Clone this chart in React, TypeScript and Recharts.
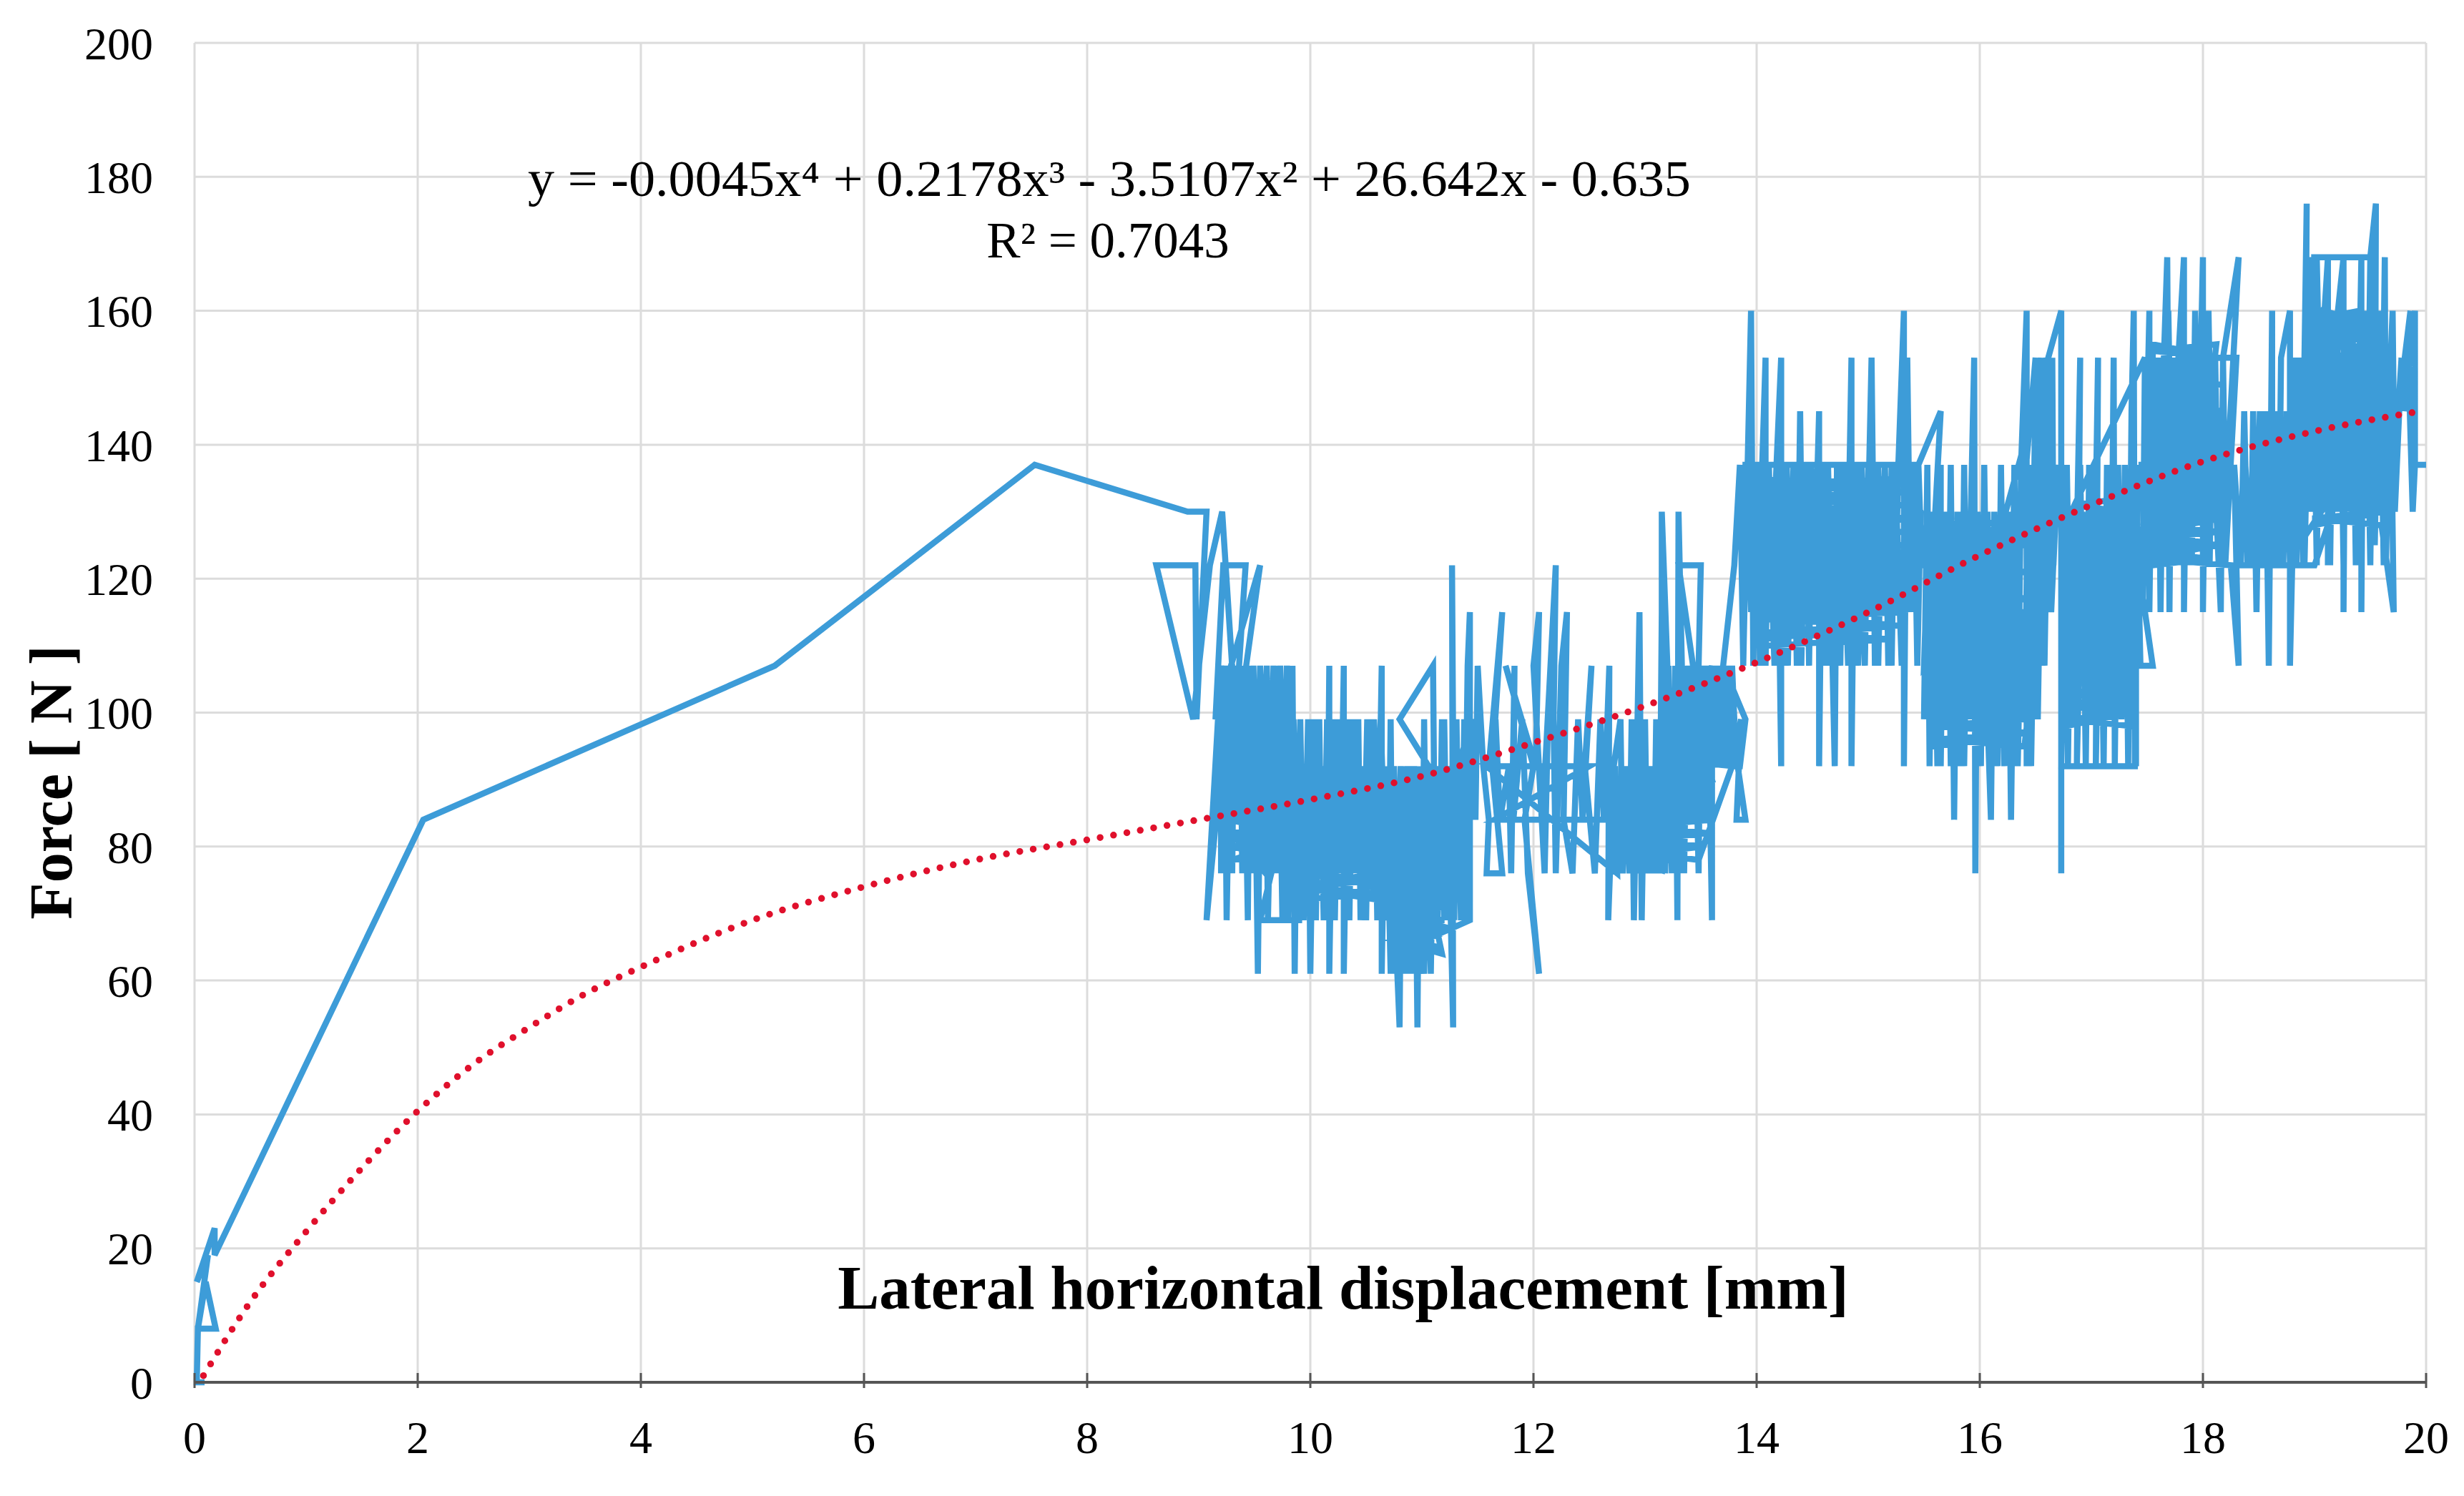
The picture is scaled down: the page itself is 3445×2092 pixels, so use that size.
import React from 'react';
import { ComposedChart, Line, XAxis, YAxis, CartesianGrid } from 'recharts';

type Pt = [number, number];

const xTicks = [0, 2, 4, 6, 8, 10, 12, 14, 16, 18, 20];
const yTicks = [0, 20, 40, 60, 80, 100, 120, 140, 160, 180, 200];

const trendX = [0.08, 0.5, 1, 1.5, 2, 2.5, 3, 3.5, 4, 5, 6, 7, 8, 9, 10, 11, 12, 13, 14, 15, 16, 17, 18, 19, 19.95];
const trendY = [1, 12, 22.5, 32, 40.5, 47.5, 53, 58, 62, 69, 74, 78, 81, 84, 87, 90.5, 95.5, 101, 107.5, 115, 123.5, 131, 137.5, 142, 145];

// start of the test, up to the first drop
const rampUp: Pt[] = [[0,0],[0.09,0],[0.02,0],[0.03,8],[0.19,8],[0.1,15],[0.03,8],[0.12,19],[0.02,15],[0.18,23],[0.18,19],[2.05,84],[5.2,107],[7.53,137],[8.9,130],[9.07,130],[8.98,99],[8.97,122],[8.62,122],[8.95,99],[9.1,122],[9.21,130],[9.33,99],[9.42,122],[9.22,122],[9.15,99],[9.55,122],[9.3,92],[9.2,107],[9.07,69],[9.2,92]];

const swarm9: Pt[] = [[9.2,76],[9.23,107],[9.25,69],[9.28,99],[9.3,76],[9.32,107],[9.35,84],[9.37,107],[9.39,76],[9.41,99],[9.44,69],[9.46,107],[9.48,76],[9.5,99],[9.53,61],[9.55,92],[9.57,76],[9.6,99],[9.62,69],[9.65,92],[9.68,107],[9.7,76],[9.72,99],[9.75,69],[9.78,92],[9.8,69],[9.84,107],[9.86,61],[9.88,92],[9.55,69],[9.9,69],[9.93,92],[9.95,76],[9.98,99],[10,61],[10.03,92],[10.05,69],[10.08,99],[10.1,76],[10.13,92],[10.15,69],[10.17,107],[10.17,61],[10.2,92],[10.22,69],[10.25,99],[10.27,76],[10.3,107],[10.3,61],[10.33,92],[10.35,69],[10.38,99],[10.4,76],[10.43,99],[10.45,69],[10.48,92],[10.5,69],[10.53,99],[10.55,76],[10.58,92],[10.6,69],[10.64,107],[10.64,61],[10.67,92]];

const swarm9Back: Pt[] = [[10.66,84],[10.63,99],[10.6,84],[10.57,99],[10.54,76],[10.51,99],[10.48,76],[10.45,92],[10.42,84],[10.39,92],[10.36,76],[10.33,99],[10.3,84],[10.27,92],[10.24,76],[10.21,99],[10.18,84],[10.15,99],[10.12,69],[10.09,92],[10.06,76],[10.03,99],[10,76],[9.97,92],[9.94,69],[9.91,99],[9.88,76],[9.85,99],[9.82,84],[9.79,107],[9.76,84],[9.73,107],[9.7,92],[9.67,107],[9.64,84],[9.61,107],[9.58,92],[9.55,107],[9.52,84],[9.49,107],[9.46,92],[9.43,107],[9.4,84],[9.37,99],[9.34,84],[9.31,107],[9.28,84],[9.25,107],[9.22,84],[9.2,99],[9.2,84],[9.6,76],[10,84],[10.4,84]];

// thick middle of each cluster, where the trace overlaps itself
const coreA: Pt[] = [[9.3,78],[9.75,79],[9.32,80],[9.78,81],[9.28,82],[9.74,83],[9.3,84],[9.76,85],[9.33,86],[9.75,87],[9.29,88],[9.72,89],[9.31,90],[9.7,91],[9.34,92],[9.74,93],[9.3,94],[9.68,95],[9.33,96],[9.66,97],[9.36,98],[9.62,99],[9.4,100]];
const coreA2: Pt[] = [[9.76,78],[9.3,80],[9.77,82],[9.28,84],[9.75,86],[9.3,88],[9.74,90],[9.32,92],[9.72,94],[9.34,96],[9.68,98]];
const coreB: Pt[] = [[9.85,72],[10.6,73],[9.9,74],[10.65,75],[9.86,76],[10.58,77],[9.88,78],[10.62,79],[9.85,80],[10.64,81],[9.92,82],[10.6,83],[9.88,84],[10.55,85],[9.9,86],[10.6,87],[9.95,88],[10.5,89],[10,90]];
const coreB2: Pt[] = [[10.62,72],[9.88,74],[10.6,76],[9.86,78],[10.64,80],[9.88,82],[10.6,84],[9.9,86],[10.56,88]];
const coreC: Pt[] = [[10.75,64],[11.15,65],[10.78,66],[11.18,67],[10.74,68],[11.2,69],[10.72,70],[11.22,71],[10.76,72],[11.18,73],[10.73,74],[11.2,75],[10.75,76],[11.22,77],[10.78,78],[11.18,79],[10.74,80],[11.2,81],[10.76,82],[11.16,83],[10.8,84],[11.2,85],[10.76,86],[11.15,87],[10.82,88],[11.12,89],[10.85,90]];
const coreC2: Pt[] = [[11.18,64],[10.76,66],[11.2,68],[10.74,70],[11.2,72],[10.74,74],[11.2,76],[10.76,78],[11.2,80],[10.76,82],[11.18,84],[10.78,86],[11.14,88]];
const coreE: Pt[] = [[13.8,92],[13.2,93],[13.75,94],[13.24,95],[13.78,96],[13.2,97],[13.74,98],[13.26,99],[13.76,100],[13.3,101],[13.72,102],[13.28,103],[13.7,104],[13.35,105]];
const coreD: Pt[] = [[13.6,90],[12.92,89],[13.55,88],[12.95,87],[13.58,86],[12.9,85],[13.6,84],[12.94,83],[13.56,82],[12.98,81],[13.52,80],[13,79],[13.48,78]];
const coreF: Pt[] = [[15.35,135],[13.98,134],[15.3,133],[14,132],[15.33,131],[13.96,130],[15.36,129],[14.02,128],[15.32,127],[13.98,126],[15.28,125],[14,124],[15.35,123],[13.95,122],[15.3,121],[14.03,120],[15.34,119],[13.98,118],[15.26,117],[14,116],[15.3,115],[14.05,114],[15.22,113],[14.02,112],[15.18,111],[14.08,110]];
const coreF2: Pt[] = [[14,135],[15.34,133],[13.98,131],[15.35,129],[13.97,127],[15.32,125],[13.98,123],[15.33,121],[14,119],[15.3,117],[14.02,115],[15.26,113],[14.05,111]];
const coreG: Pt[] = [[16.4,95],[15.62,96],[16.44,97],[15.58,98],[16.4,99],[15.62,100],[16.45,101],[15.56,102],[16.42,103],[15.6,104],[16.46,105],[15.55,106],[16.4,107],[15.6,108],[16.44,109],[15.58,110],[16.42,111],[15.62,112],[16.45,113],[15.56,114],[16.4,115],[15.6,116],[16.44,117],[15.58,118],[16.38,119],[15.6,120],[16.42,121],[15.62,122],[16.36,123],[15.58,124],[16.4,125],[15.62,126],[16.34,127],[15.6,128]];
const coreG2: Pt[] = [[15.6,95],[16.42,97],[15.58,99],[16.44,101],[15.58,103],[16.44,105],[15.57,107],[16.42,109],[15.58,111],[16.44,113],[15.58,115],[16.42,117],[15.6,119],[16.4,121],[15.6,123],[16.38,125],[15.62,127]];
const coreH: Pt[] = [[17.35,98],[16.78,99],[17.32,100],[16.76,101],[17.36,102],[16.8,103],[17.33,104],[16.76,105],[17.35,106],[16.78,107],[17.38,108],[16.76,109],[17.34,110],[16.8,111],[17.36,112],[16.77,113],[17.33,114],[16.76,115],[17.38,116],[16.8,117],[17.35,118],[16.78,119],[17.32,120],[16.76,121],[17.36,122],[16.8,123],[17.34,124],[16.78,125],[17.3,126],[16.82,127],[17.34,128],[16.8,129],[17.28,130],[16.84,131],[17.3,132]];
const coreH2: Pt[] = [[16.78,98],[17.34,100],[16.77,102],[17.35,104],[16.77,106],[17.36,108],[16.78,110],[17.35,112],[16.78,114],[17.36,116],[16.78,118],[17.34,120],[16.78,122],[17.35,124],[16.8,126],[17.32,128],[16.82,130]];
const coreI: Pt[] = [[18.12,155],[17.56,154],[18.15,153],[17.52,152],[18.1,151],[17.55,150],[18.16,149],[17.5,148],[18.12,147],[17.54,146],[18.18,145],[17.5,144],[18.14,143],[17.52,142],[18.18,141],[17.48,140],[18.15,139],[17.5,138],[18.2,137],[17.46,136],[18.16,135],[17.5,134],[18.2,133],[17.48,132],[18.15,131],[17.52,130],[18.18,129],[17.5,128],[18.14,127],[17.54,126],[18.1,125],[17.5,124],[18.05,123],[17.55,122]];
const coreI2: Pt[] = [[17.55,155],[18.14,153],[17.53,151],[18.14,149],[17.52,147],[18.16,145],[17.51,143],[18.16,141],[17.5,139],[18.18,137],[17.48,135],[18.18,133],[17.5,131],[18.16,129],[17.52,127],[18.12,125],[17.52,123]];
const coreK: Pt[] = [[19.6,128],[18.98,129],[19.62,130],[18.95,131],[19.58,132],[19,133],[19.63,134],[18.96,135],[19.6,136],[18.98,137],[19.64,138],[18.94,139],[19.6,140],[18.98,141],[19.62,142],[18.95,143],[19.58,144],[19,145],[19.63,146],[18.96,147],[19.6,148],[19,149],[19.58,150],[18.98,151],[19.56,152],[19.02,153],[19.6,154],[19,155],[19.52,156],[19.06,157],[19.48,158],[19.1,159],[19.4,160]];
const coreK2: Pt[] = [[19,128],[19.6,130],[18.97,132],[19.61,134],[18.97,136],[19.62,138],[18.96,140],[19.61,142],[18.97,144],[19.61,146],[18.98,148],[19.58,150],[19,152],[19.58,154],[19.02,156],[19.5,158],[19.08,160]];
const coreJ: Pt[] = [[18.9,143],[18.48,142],[18.92,141],[18.44,140],[18.9,139],[18.46,138],[18.94,137],[18.42,136],[18.9,135],[18.46,134],[18.92,133],[18.42,132],[18.88,131],[18.44,130],[18.92,129],[18.4,128],[18.9,127],[18.45,126],[18.86,125]];

const swarm10: Pt[] = [[10.7,69],[10.72,99],[10.74,61],[10.76,84],[10.78,61],[10.8,53],[10.82,92],[10.84,61],[10.86,84],[10.88,61],[10.9,92],[10.92,69],[10.94,84],[10.96,53],[10.98,92],[11,61],[11.02,99],[11.04,69],[11.06,92],[10.8,99],[11.1,107],[11.12,69],[11.14,92],[11.16,76],[11.18,99],[11.2,69],[11.22,92],[11.25,76],[11.28,53],[11.27,122],[11.29,69],[11.31,99],[11.33,76],[11.35,92],[11.38,69],[11.41,107],[11.43,115],[11.43,69]];

const swarm10Back: Pt[] = [[11.44,92],[11.41,76],[11.38,99],[11.35,69],[11.32,92],[11.29,76],[11.26,92],[11.23,69],[11.2,99],[11.17,84],[11.14,69],[11.11,92],[11.08,61],[11.05,84],[11.02,61],[10.99,76],[10.96,61],[10.93,92],[10.9,61],[10.87,92],[10.84,69],[10.81,92],[10.78,69],[10.75,92],[10.72,61],[10.69,84],[11,76],[11.46,99],[11.48,84],[11.5,107]];

const sparse11: Pt[] = [[11.55,92],[11.6,84],[11.58,76],[11.72,76],[11.63,92],[11.72,115],[11.6,92],[11.66,99],[11.7,84],[11.78,92],[11.8,76],[11.83,107],[11.82,84],[11.9,99],[11.95,76],[12.05,61],[11.92,84],[12,92],[11.75,107],[12.02,92],[12.05,115],[12,107],[12.1,76],[12.13,99],[12.08,84],[12.2,122],[12.18,99],[12.2,76],[12.25,107],[12.3,115],[12.27,84],[12.35,76],[12.4,99],[12.44,84],[12.52,107],[12.46,92],[12.55,76],[12.6,99],[12.63,84],[12.68,107],[12.67,69],[12.72,92],[12.75,76],[11.58,92],[12.5,92],[11.65,84],[12.65,84]];

const swarm13: Pt[] = [[12.78,99],[12.8,76],[12.83,92],[12.86,76],[12.88,99],[12.9,69],[12.95,115],[12.97,69],[13,99],[13.02,76],[13.05,92],[13.08,76],[13.1,99],[13.13,76],[13.15,115],[13.15,130],[13.2,107],[13.18,76],[13.22,99],[13.25,76],[13.27,107],[13.29,69],[13.3,130],[13.33,107],[13.35,76],[13.38,107],[13.4,84],[13.43,107],[13.3,122],[13.5,122],[13.46,92],[13.48,76],[13.5,107],[13.53,84],[13.56,107],[13.6,69],[13.6,107],[13.15,76],[13.63,99],[13.65,92],[13.68,107],[13.7,92],[13.72,107],[13.75,92],[13.78,107],[13.8,99],[13.77,92],[13.86,99],[13.82,84],[13.9,84],[13.7,107],[13.9,99],[13.85,92]];

const swarm13Back: Pt[] = [[13.78,92],[13.75,107],[13.72,92],[13.69,107],[13.66,92],[13.63,107],[13.6,92],[13.57,107],[13.54,84],[13.51,107],[13.48,84],[13.45,107],[13.42,84],[13.39,107],[13.36,84],[13.33,107],[13.3,76],[13.27,99],[13.24,76],[13.21,107],[13.18,76],[13.15,99],[13.12,76],[13.09,92],[13.06,76],[13.03,92],[13,76],[12.97,92],[12.94,76],[12.91,92],[12.88,76],[12.85,92],[12.82,84],[12.79,92],[12.76,76],[12.73,92],[12.7,76],[13.2,92],[13.6,92],[13.8,122]];

const swarm14: Pt[] = [[13.85,137],[13.88,107],[13.91,130],[13.95,160],[13.97,107],[14,137],[14.03,107],[14.05,137],[14.08,153],[14.08,107],[14.11,137],[14.14,115],[14.16,130],[14.22,153],[14.22,92],[14.19,130],[14.24,107],[14.27,137],[14.3,115],[14.33,137],[14.36,107],[14.39,145],[14.41,115],[14.44,137],[14.47,107],[14.49,130],[14.51,115],[14.56,145],[14.56,92],[14.59,137],[14.62,107],[14.64,137],[14.67,115],[14.7,92],[14.72,137],[14.75,107],[14.78,137],[14.81,115],[14.85,153],[14.85,92],[14.88,137],[14.91,107],[14.94,137],[14.97,115],[15,130],[15.03,153],[15.06,107],[15.09,137],[15.12,115],[15.15,137],[15.18,107],[15.21,137],[15.24,115],[15.27,137],[15.32,160],[15.32,92],[15.35,153],[15.38,115],[15.41,137],[15.44,107],[15.47,130]];

const swarm14Back: Pt[] = [[15.48,122],[15.45,137],[15.42,122],[15.39,137],[15.36,115],[15.33,130],[15.3,107],[15.27,122],[15.24,137],[15.21,107],[15.18,130],[15.15,115],[15.12,130],[15.09,107],[15.06,137],[15.03,115],[15,137],[14.97,107],[14.94,122],[14.91,137],[14.88,115],[14.85,130],[14.82,107],[14.79,122],[14.76,137],[14.73,115],[14.7,130],[14.67,107],[14.64,122],[14.61,130],[14.58,107],[14.55,137],[14.52,115],[14.49,137],[14.46,115],[14.43,130],[14.4,107],[14.37,137],[14.34,115],[14.31,130],[14.28,107],[14.25,137],[14.22,115],[14.19,137],[14.16,107],[14.13,122],[14.1,137],[14.07,115],[14.04,130],[14.01,115],[13.98,137],[13.95,115],[13.92,137],[13.89,122],[13.9,137],[15.45,137],[15.65,145],[15.5,99]];

const swarm15: Pt[] = [[15.53,137],[15.55,92],[15.58,130],[15.61,99],[15.65,137],[15.65,92],[15.68,130],[15.71,99],[15.74,137],[15.77,84],[15.8,130],[15.83,92],[15.86,137],[15.89,99],[15.92,130],[15.95,153],[15.96,76],[15.98,130],[16.01,92],[16.04,137],[16.07,99],[16.1,84],[16.13,130],[16.16,92],[16.19,137],[16.22,99],[16.25,130],[16.28,84],[16.31,122],[16.34,92],[16.37,137],[16.42,160],[16.42,92],[16.44,137],[16.3,115],[16.5,153],[16.47,107],[16.55,153],[16.53,115],[16.6,153],[16.58,122],[16.63,137],[16.65,153],[16.66,122],[16.7,137]];

const swarm15Back: Pt[] = [[16.68,130],[16.64,115],[16.61,137],[16.58,107],[16.55,130],[16.52,99],[16.49,122],[16.46,92],[16.43,130],[16.4,99],[16.37,115],[16.34,92],[16.31,137],[16.28,99],[16.25,115],[16.22,92],[16.19,122],[16.16,99],[16.13,115],[16.1,92],[16.07,130],[16.04,99],[16.01,122],[15.98,92],[15.95,115],[15.92,99],[15.89,122],[15.86,92],[15.83,130],[15.8,99],[15.77,115],[15.74,92],[15.71,130],[15.68,99],[15.65,115],[15.62,92],[15.59,122],[15.56,107],[15.53,122],[15.5,107],[16.1,122],[16.73,160],[16.73,76]];

const swarm17: Pt[] = [[16.73,92],[16.76,137],[16.79,92],[16.82,130],[16.84,99],[16.9,153],[16.87,92],[16.92,130],[16.95,92],[16.98,137],[17.01,99],[17.06,153],[17.04,92],[17.08,130],[17.11,92],[17.14,137],[17.17,99],[17.2,153],[17.21,92],[17.24,137],[17.27,99],[17.3,137],[17.33,92],[17.36,145],[17.38,160],[17.39,92],[16.73,92],[16.75,115],[16.78,137],[16.81,107],[16.84,130],[16.87,107],[16.9,137],[16.93,107],[16.96,122],[16.99,107],[17.02,137],[17.05,107],[17.08,122],[17.11,107],[17.14,122],[17.17,107],[17.2,137],[17.23,107],[17.26,122],[17.29,107],[17.32,130],[17.35,107],[17.38,122],[17.4,92],[17.4,137],[17.44,107],[17.55,107],[17.42,122]];

const swarm17Top: Pt[] = [[17.48,153],[17.46,115],[17.52,160],[17.52,115],[17.55,153],[17.58,122],[17.6,153],[17.62,115],[17.65,153],[17.68,168],[17.7,115],[17.72,153],[17.75,122],[17.78,153],[17.83,168],[17.83,115],[17.86,153],[17.89,122],[17.92,153],[17.95,130],[18,168],[18,115],[18.03,153],[18.06,122],[18.09,153],[18.12,130],[18.16,115],[18.18,153],[18.32,168],[18.2,130],[18.18,153],[18.3,153]];

const swarm17Back: Pt[] = [[18.2,122],[18.17,145],[18.14,122],[18.11,153],[18.08,130],[18.05,160],[18.02,122],[17.99,153],[17.96,130],[17.93,160],[17.9,122],[17.87,145],[17.84,130],[17.81,160],[17.78,122],[17.75,153],[17.72,130],[17.69,160],[17.66,122],[17.63,145],[17.6,130],[17.57,153],[17.54,122],[17.51,145],[17.48,122],[17.45,137],[18,137]];

const swarm18: Pt[] = [[18.25,122],[18.32,107],[18.28,137],[18.34,122],[18.37,145],[18.4,122],[18.38,137],[18.43,122],[18.45,145],[18.48,115],[18.5,137],[18.53,122],[18.56,145],[18.59,107],[18.62,160],[18.62,122],[18.65,145],[18.68,122],[18.7,153],[18.78,160],[18.78,107],[18.8,122],[18.82,153],[18.84,122],[18.87,153],[18.89,130],[18.93,176],[18.91,122],[18.97,168],[19,130],[19.03,160],[19.02,168],[19.06,130],[19.09,160],[19.12,168],[19.12,122],[19.15,160],[19.18,130],[19.21,160],[19.26,168],[19.26,115],[19.28,160],[19.31,130],[19.34,160],[19.37,122],[19.42,168],[19.42,115],[19.44,160],[19.47,130],[19.5,168],[18.97,168],[19.5,168],[19.55,176],[19.54,125],[19.58,160],[19.6,130],[19.63,168],[19.64,122],[19.68,153],[19.71,115]];

const swarm18Back: Pt[] = [[19.66,145],[19.62,122],[19.59,153],[19.56,130],[19.53,160],[19.5,122],[19.47,153],[19.44,130],[19.41,160],[19.38,122],[19.35,153],[19.32,130],[19.29,160],[19.26,122],[19.23,153],[19.2,130],[19.17,160],[19.14,122],[19.11,153],[19.08,130],[19.05,160],[19.02,122],[18.99,153],[18.96,130],[18.93,160],[18.9,122],[18.87,145],[18.84,130],[18.81,145],[18.78,122],[18.75,145],[18.72,122],[18.69,137],[18.66,122],[18.63,137],[18.6,122],[18.57,137],[18.54,122],[18.51,145],[18.48,122],[18.45,137],[18.42,122],[18.3,122],[19,122],[19.3,137],[19.65,140],[19.7,160],[19.72,130],[19.78,153],[19.75,145],[19.86,160],[19.8,145],[19.9,160],[19.9,137],[19.84,153],[19.88,130],[19.9,137],[20,137]];

const series = [
  ...rampUp, ...swarm9, ...swarm9Back, ...coreA, ...coreA2, ...coreB, ...coreB2,
  ...swarm10, ...coreC, ...coreC2, ...swarm10Back, ...sparse11,
  ...swarm13, ...coreE, ...coreD, ...swarm13Back,
  ...swarm14, ...coreF, ...coreF2, ...swarm14Back,
  ...swarm15, ...coreG, ...coreG2, ...swarm15Back,
  ...swarm17, ...coreH, ...coreH2, ...swarm17Top, ...swarm17Back, ...coreI, ...coreI2,
  ...swarm18, ...coreK, ...coreK2, ...coreJ, ...swarm18Back,
].map(([x, y]) => ({ x, y }));
const trend = trendX.map((x, i) => ({ x, trendY: trendY[i] }));

const serif = '"Liberation Serif", "Times New Roman", serif';

const BottomTick = (props: any) => {
  const { x, y, payload } = props;
  return (
    <g>
      <line x1={x} x2={x} y1={y} y2={y - 21} stroke="#555" strokeWidth={3} />
      <text x={x} y={y + 91} textAnchor="middle" fontFamily={serif} fontSize={64} fill="#000">
        {payload.value}
      </text>
    </g>
  );
};

export default function App() {
  return (
    <div style={{ position: 'absolute', left: 0, top: 0, width: 3445, height: 2092, overflow: 'hidden', background: '#fff' }}>
      <ComposedChart width={3445} height={2092} margin={{ top: 60, right: 53, left: 0, bottom: 0 }}>
        <CartesianGrid stroke="#dcdcdc" strokeWidth={3} />
        <XAxis
          type="number"
          dataKey="x"
          domain={[0, 20]}
          ticks={xTicks}
          interval={0}
          height={159}
          stroke="#555"
          strokeWidth={4}
          tickLine={false}
          tick={<BottomTick />}
        />
        <YAxis
          type="number"
          domain={[0, 200]}
          ticks={yTicks}
          interval={0}
          width={272}
          axisLine={false}
          tickLine={false}
          tickMargin={52}
          tick={{ fontFamily: serif, fontSize: 64, fill: '#000' }}
        />
        <Line
          data={series}
          dataKey="y"
          type="linear"
          stroke="#3d9cd8"
          strokeWidth={8.5}
          dot={false}
          isAnimationActive={false}
        />
        <Line
          data={trend}
          dataKey="trendY"
          type="monotone"
          stroke="#e0102c"
          strokeWidth={9.5}
          strokeLinecap="round"
          strokeDasharray="0 19"
          dot={false}
          isAnimationActive={false}
        />
        <text x={1551} y={274} textAnchor="middle" fontFamily={serif} fontSize={72} fill="#000" textLength={1626} lengthAdjust="spacingAndGlyphs">
          y = -0.0045x⁴ + 0.2178x³ - 3.5107x² + 26.642x - 0.635
        </text>
        <text x={1549} y={360} textAnchor="middle" fontFamily={serif} fontSize={71} fill="#000">
          R² = 0.7043
        </text>
        <text x={1878} y={1830} textAnchor="middle" fontFamily={serif} fontSize={87} fontWeight="bold" fill="#000">
          Lateral horizontal displacement [mm]
        </text>
        <text transform="translate(100,1094) rotate(-90)" textAnchor="middle" fontFamily={serif} fontSize={84} fontWeight="bold" fill="#000">
          Force [ N ]
        </text>
      </ComposedChart>
    </div>
  );
}
